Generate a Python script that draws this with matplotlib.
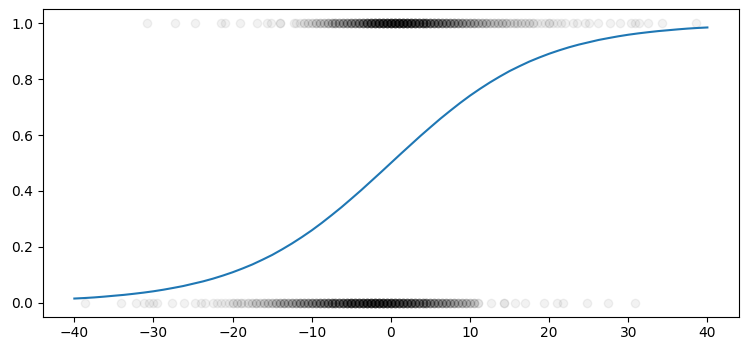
import numpy as np
import matplotlib
matplotlib.use('Agg')
import matplotlib.pyplot as plt

# ---- scatter data ----
# y = 1 row: lone points in the tails, counts per 0.5-wide slot in the dense part
ones_tail = [-30.8, -27.3, -24.8, -21.5, -20.9, -19.1, -16.9, -15.6, -15.2,
             -14.0, -14.0, -12.3,
             26.2, 27.7, 29.0, 30.3, 30.8, 31.3, 32.5, 34.3, 38.6]
ones_start = -12.0
ones_counts = [1, 1, 2, 2, 2, 3, 3, 3, 4, 4, 5, 5, 6, 6, 7, 7, 8, 9, 11, 12,
               13, 14, 15, 15, 16, 16, 16, 16, 15, 14, 13, 12, 11, 10, 10, 9,
               9, 8, 8, 7, 7, 6, 6, 5, 5, 5, 4, 4, 4, 3, 3, 3, 3, 3, 2, 2, 2,
               2, 2, 2, 2, 1, 1, 1, 2, 1, 1, 1, 1, 0, 1, 1, 0, 1, 1]

# y = 0 row
zeros_tail = [-38.6, -34.1, -32.2, -31.2, -30.6, -30.0, -29.5, -27.6, -26.1,
              -24.7,
              12.6, 14.3, 14.3, 15.7, 17.0, 19.3, 21.0, 21.7, 24.8, 27.4, 30.9]
zeros_start = -24.0
zeros_counts = [1, 1, 0, 1, 1, 1, 1, 1, 2, 2, 2, 1, 2, 2, 3, 2, 3, 3, 3, 4,
                4, 5, 4, 5, 5, 6, 6, 6, 7, 7, 8, 8, 9, 9, 9, 10, 11, 12, 14,
                13, 13, 14, 15, 15, 16, 15, 15, 14, 14, 13, 12, 12, 11, 11, 10,
                9, 8, 8, 7, 7, 6, 6, 6, 5, 5, 4, 4, 4, 3, 3, 2]

# ---- fitted curve, read at every 1.25 ----
curve_x = [-40, -38.75, -37.5, -36.25, -35, -33.75, -32.5, -31.25, -30,
           -28.75, -27.5, -26.25, -25, -23.75, -22.5, -21.25, -20, -18.75,
           -17.5, -16.25, -15, -13.75, -12.5, -11.25, -10, -8.75, -7.5, -6.25,
           -5, -3.75, -2.5, -1.25, 0, 1.25, 2.5, 3.75, 5, 6.25, 7.5, 8.75, 10,
           11.25, 12.5, 13.75, 15, 16.25, 17.5, 18.75, 20, 21.25, 22.5, 23.75,
           25, 26.25, 27.5, 28.75, 30, 31.25, 32.5, 33.75, 35, 36.25, 37.5,
           38.75, 40]
curve_y = [0.015, 0.0168, 0.019, 0.0218, 0.025, 0.0281, 0.032, 0.0362, 0.041,
           0.0466, 0.053, 0.0597, 0.068, 0.0763, 0.086, 0.097, 0.109, 0.1225,
           0.137, 0.1536, 0.171, 0.1909, 0.212, 0.2348, 0.259, 0.2852, 0.313,
           0.3416, 0.372, 0.4028, 0.435, 0.4672, 0.5, 0.5328, 0.565, 0.5972,
           0.628, 0.6584, 0.687, 0.7148, 0.741, 0.7652, 0.788, 0.8091, 0.829,
           0.8464, 0.863, 0.8775, 0.891, 0.903, 0.914, 0.9237, 0.932, 0.9403,
           0.947, 0.9534, 0.959, 0.9638, 0.968, 0.9719, 0.975, 0.9782, 0.981,
           0.9832, 0.985]


def expand(start, counts, tail):
    slots = start + 0.5 * np.arange(len(counts))
    return np.concatenate([np.repeat(slots, counts), tail])


x1 = expand(ones_start, ones_counts, ones_tail)
x0 = expand(zeros_start, zeros_counts, zeros_tail)
xs = np.concatenate([x0, x1])
ys = np.concatenate([np.zeros(len(x0)), np.ones(len(x1))])

fig = plt.figure(figsize=(7.49, 3.51), dpi=100)
ax = fig.add_axes([0.057, 0.0977, 0.9297, 0.8758])
ax.scatter(xs, ys, c='black', alpha=0.05)
ax.plot(curve_x, curve_y)
ax.set_xlim(-44, 44)
ax.set_ylim(-0.05, 1.05)

fig.savefig('out.png', dpi=100)
